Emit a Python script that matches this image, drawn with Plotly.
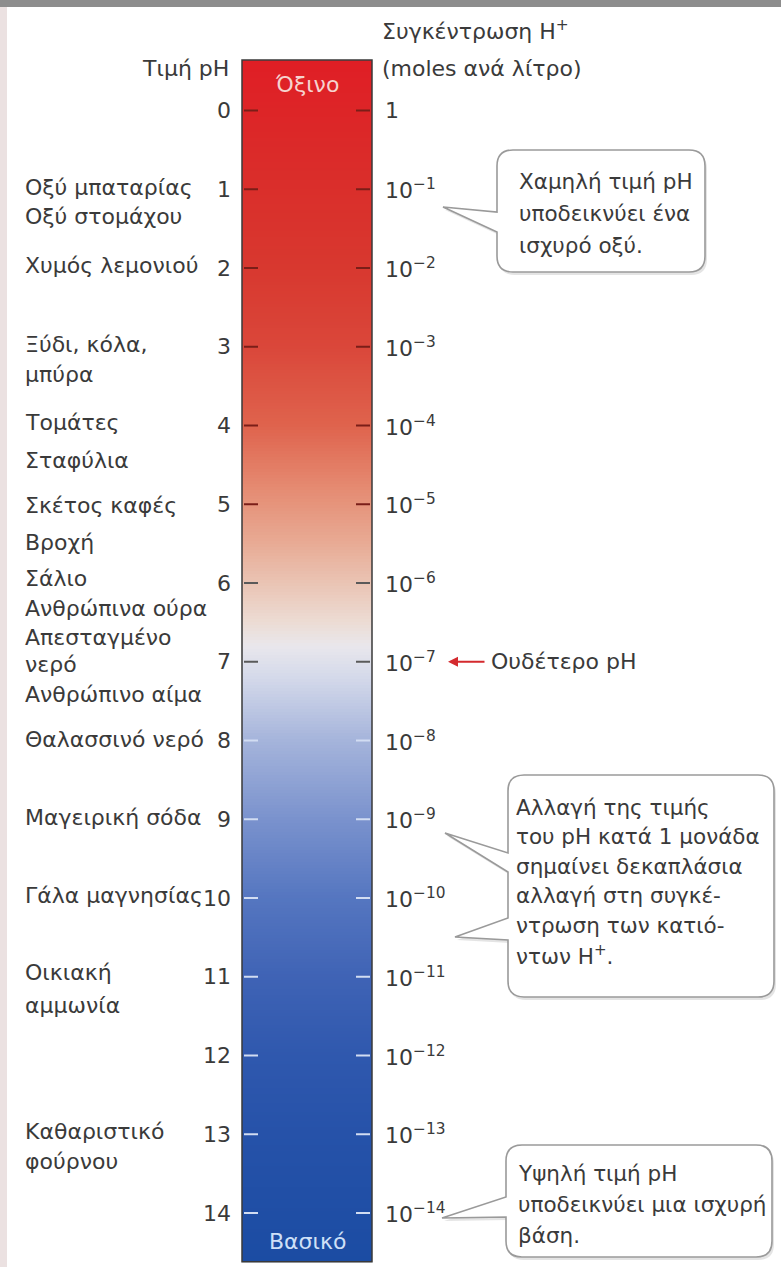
import numpy as np
import plotly.graph_objects as go

# ---------------- data ----------------
ph_values = list(range(0, 15))
ph_tick_labels = [str(v) for v in ph_values]
conc_labels = ["1"] + ["10<sup>\u2212%d</sup>" % v for v in range(1, 15)]

substances = ["Οξύ μπαταρίας", "Οξύ στομάχου", "Χυμός λεμονιού", "Ξύδι, κόλα,", "μπύρα",
              "Τομάτες", "Σταφύλια", "Σκέτος καφές", "Βροχή", "Σάλιο", "Ανθρώπινα ούρα",
              "Απεσταγμένο", "νερό", "Ανθρώπινο αίμα", "Θαλασσινό νερό", "Μαγειρική σόδα",
              "Γάλα μαγνησίας", "Οικιακή", "αμμωνία", "Καθαριστικό", "φούρνου"]
substance_ph = [0.98, 1.35, 1.97, 2.97, 3.35, 3.96, 4.44, 5.01, 5.48, 5.94, 6.32,
                6.69, 7.04, 7.42, 7.99, 8.98, 9.97, 10.95, 11.36, 12.96, 13.35]

neutral_ph = 7

# bar gradient colour stops (pH, colour)
grad_ph = [-0.64, 0.5, 2.0, 3.0, 4.0, 4.8, 5.5, 6.0, 6.5, 6.8, 7.2, 8.0, 9.0, 10.0, 11.0, 12.0, 13.0, 14.62]
grad_col = ["#e01e25", "#db2a29", "#d8382f", "#da473a", "#df634d", "#e58b72", "#e8ab95",
            "#eac4b4", "#ecdcd4", "#e9e7ec", "#d4d9ea", "#a5b4db", "#7a92cd", "#5576c0",
            "#3f63b5", "#2f58ae", "#2652a9", "#1b4ca3"]

bar_top_ph, bar_bottom_ph = -0.64, 14.62

callout1 = ["Χαμηλή τιμή pH", "υποδεικνύει ένα", "ισχυρό οξύ."]
callout2 = ["Αλλαγή της τιμής", "του pH κατά 1 μονάδα", "σημαίνει δεκαπλάσια",
            "αλλαγή στη συγκέ-", "ντρωση των κατιό-", "ντων H<sup>+</sup>."]
callout3 = ["Υψηλή τιμή pH", "υποδεικνύει μια ισχυρή", "βάση."]

# ---------------- layout constants ----------------
W, H = 781, 1267
PX0, PXS = 110.5, 78.75          # pixel of pH 0, pixels per pH unit
BAR_L, BAR_R = 242, 372
FONT = "DejaVu Sans"
TXT = "#3a3a3a"
FS = 22
FSC = 21.5

ph_min = -PX0 / PXS
ph_max = (H - PX0) / PXS

fig = go.Figure()

# gradient bar
n = 400
edges = np.linspace(bar_top_ph, bar_bottom_ph, n + 1)
centers = (edges[:-1] + edges[1:]) / 2
zmin, zmax = grad_ph[0], grad_ph[-1]
cscale = [[(p - zmin) / (zmax - zmin), c] for p, c in zip(grad_ph, grad_col)]
fig.add_trace(go.Heatmap(x=[BAR_L, BAR_R], y=edges, z=centers.reshape(-1, 1),
                         colorscale=cscale, zmin=zmin, zmax=zmax, showscale=False,
                         hoverinfo="skip"))

# tick marks
def tick_color(v):
    if v <= 5:
        return "#7a1e18"
    if v <= 7:
        return "#5a5a5a"
    return "#d2ddf2"

for v in ph_values:
    c = tick_color(v)
    fig.add_trace(go.Scatter(x=[BAR_L + 2, BAR_L + 16, None, BAR_R - 16, BAR_R - 2],
                             y=[v, v, None, v, v], mode="lines",
                             line=dict(color=c, width=2), hoverinfo="skip", showlegend=False))

# invisible trace on pixel axis
fig.add_trace(go.Scatter(x=[0], y=[0], yaxis="y2", mode="markers",
                         marker=dict(opacity=0), hoverinfo="skip", showlegend=False))

ann = []
def A(x, y, text, xanchor="left", yref="y", size=FS, color=TXT, **kw):
    ann.append(dict(x=x, y=y, xref="x", yref=yref, text=text, showarrow=False,
                    xanchor=xanchor, yanchor="middle",
                    font=dict(family=FONT, size=size, color=color), **kw))

for v, t in zip(ph_values, ph_tick_labels):
    A(233, v, t, xanchor="right")
for v, t in zip(ph_values, conc_labels):
    A(383, v, t)
for t, p in zip(substances, substance_ph):
    A(23, p, t)

# headers
A(231, 68, "Τιμή pH", xanchor="right", yref="y2")
A(380, 30, "Συγκέντρωση H<sup>+</sup>", yref="y2")
A(380, 68, "(moles ανά λίτρο)", yref="y2")
A(307, 84, "Όξινο", xanchor="center", yref="y2", color="#f6d3cf")
A(307, 1241, "Βασικό", xanchor="center", yref="y2", color="#cfe0f7")

# neutral arrow
ann.append(dict(x=448, y=neutral_ph, ax=486, ay=neutral_ph, xref="x", yref="y",
                axref="x", ayref="y", text="", showarrow=True, arrowhead=2,
                arrowsize=1, arrowwidth=2, arrowcolor="#d42a2e"))
A(489, neutral_ph, "Ουδέτερο pH")

# callout texts
for i, t in enumerate(callout1):
    A(517, 181 + i * 32, t, yref="y2", size=FSC)
for i, t in enumerate(callout2):
    A(514, 807 + i * 29.6, t, yref="y2", size=FSC)
for i, t in enumerate(callout3):
    A(516, 1173 + i * 31, t, yref="y2", size=FSC)

# ---------------- shapes ----------------
def box_path(x0, y0, x1, y1, r, pointers):
    p = "M %f,%f L %f,%f Q %f,%f %f,%f L %f,%f Q %f,%f %f,%f L %f,%f Q %f,%f %f,%f" % (
        x0 + r, y0, x1 - r, y0, x1, y0, x1, y0 + r, x1, y1 - r, x1, y1, x1 - r, y1,
        x0 + r, y1, x0, y1, x0, y1 - r)
    for yb1, tx, ty, yb2 in reversed(pointers):
        p += " L %f,%f L %f,%f L %f,%f" % (x0, yb2, tx, ty, x0, yb1)
    p += " L %f,%f Q %f,%f %f,%f Z" % (x0, y0 + r, x0, y0, x0 + r, y0)
    return p

boxes = [
    (497, 150, 705, 272, [(212, 443, 207, 232)]),
    (508, 775, 774, 997, [(853, 445, 833, 872), (918, 455, 937, 940)]),
    (506, 1145, 772, 1257, [(1197, 442, 1218, 1217)]),
]
shapes = []
shapes.append(dict(type="rect", xref="x", yref="y2", x0=0, x1=W, y0=0, y1=7,
                   fillcolor="#8d8d8d", line=dict(width=0), layer="above"))
shapes.append(dict(type="rect", xref="x", yref="y2", x0=0, x1=7, y0=7, y1=H,
                   fillcolor="#ebe1e1", line=dict(width=0), layer="above"))
for x0, y0, x1, y1, ptr in boxes:
    shp = box_path(x0 + 2, y0 + 3, x1 + 2, y1 + 3, 16, [(a + 3, b + 2, c + 3, d + 3) for a, b, c, d in ptr])
    shapes.append(dict(type="path", xref="x", yref="y2", path=shp, fillcolor="#d9d9d9",
                       opacity=0.7, line=dict(width=0), layer="below"))
    shapes.append(dict(type="path", xref="x", yref="y2", path=box_path(x0, y0, x1, y1, 16, ptr),
                       fillcolor="white", line=dict(color="#9a9a9a", width=1.6), layer="below"))
shapes.append(dict(type="rect", xref="x", yref="y", x0=BAR_L, x1=BAR_R,
                   y0=bar_top_ph, y1=bar_bottom_ph, line=dict(color="#3a3a3a", width=1.5)))

fig.update_layout(
    width=W, height=H, margin=dict(l=0, r=0, t=0, b=0),
    paper_bgcolor="white", plot_bgcolor="white", showlegend=False,
    xaxis=dict(range=[0, W], visible=False, fixedrange=True),
    yaxis=dict(range=[ph_max, ph_min], visible=False, fixedrange=True),
    yaxis2=dict(range=[H, 0], visible=False, overlaying="y", fixedrange=True),
    annotations=ann, shapes=shapes,
)
fig.write_html("out.html", config={"displayModeBar": False},
               post_script="document.body.style.margin='0px';document.body.style.overflow='hidden';")
